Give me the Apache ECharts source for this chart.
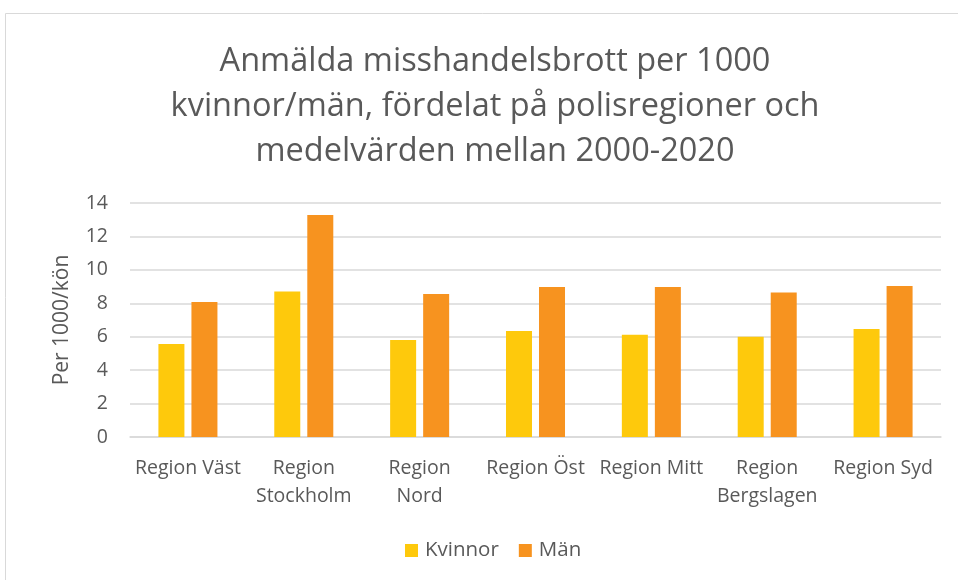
<!DOCTYPE html>
<html>
<head>
<meta charset="utf-8">
<script src="https://cdn.jsdelivr.net/npm/echarts@6/dist/echarts.min.js"></script>
<style>
  html, body { margin: 0; padding: 0; background: #fff; }
  #chart { width: 958px; height: 580px; }
</style>
</head>
<body>
<div id="chart"></div>
<script>
const categories = ["Region Väst", "Region Stockholm", "Region Nord", "Region Öst", "Region Mitt", "Region Bergslagen", "Region Syd"];
const kvinnor = [5.56, 8.7, 5.8, 6.34, 6.12, 6.0, 6.46];
const man = [8.08, 13.28, 8.56, 8.98, 8.98, 8.64, 9.04];
const yTicks = { min: 0, max: 14, interval: 2 };

// kategorier som bryts på två rader (som i originalet)
const wrapped = ["Region Stockholm", "Region Nord", "Region Bergslagen"];

const textColor = "#595959";
const font = "'Open Sans', 'Noto Sans', sans-serif";

const chart = echarts.init(document.getElementById("chart"));
chart.setOption({
  animation: false,
  textStyle: { fontFamily: font },
  graphic: [
    {
      type: "rect",
      shape: { x: 5.5, y: 13.5, width: 1000, height: 700 },
      style: { fill: "none", stroke: "#d9d9d9", lineWidth: 1 },
      silent: true,
    },
  ],
  title: {
    text: "Anmälda misshandelsbrott per 1000\nkvinnor/män, fördelat på polisregioner och\nmedelvärden mellan 2000-2020",
    left: 490,
    textAlign: "center",
    top: 34,
    textStyle: {
      fontFamily: font,
      fontSize: 32.5,
      fontWeight: "normal",
      color: textColor,
      lineHeight: 45,
    },
  },
  legend: {
    bottom: 14,
    left: 400,
    itemWidth: 13,
    itemHeight: 13,
    itemGap: 20,
    icon: "rect",
    textStyle: { fontSize: 20.5, color: textColor, fontFamily: font, padding: [0, 0, 0, 2] },
    data: ["Kvinnor", "Män"],
  },
  grid: { left: 130, right: 17, top: 203, bottom: 143, containLabel: false },
  xAxis: {
    type: "category",
    data: categories,
    axisLine: { show: true, lineStyle: { color: "#d9d9d9", width: 1.5 } },
    axisTick: { show: false },
    axisLabel: {
      interval: 0,
      fontSize: 19.5,
      color: textColor,
      margin: 17,
      lineHeight: 28.5,
      formatter: (v) => (wrapped.includes(v) ? v.replace(" ", "\n") : v),
    },
  },
  yAxis: {
    type: "value",
    min: yTicks.min,
    max: yTicks.max,
    interval: yTicks.interval,
    name: "Per 1000/kön",
    nameLocation: "middle",
    nameGap: 57,
    nameTextStyle: { fontSize: 21, color: textColor, fontFamily: font },
    axisLine: { show: false },
    axisTick: { show: false },
    axisLabel: { fontSize: 19.5, color: textColor, margin: 22 },
    splitLine: { lineStyle: { color: "#d9d9d9", width: 1.5 } },
  },
  series: [
    {
      name: "Kvinnor",
      type: "bar",
      data: kvinnor,
      barWidth: 26,
      barGap: "27%",
      itemStyle: { color: "#FEC90C" },
    },
    {
      name: "Män",
      type: "bar",
      data: man,
      barWidth: 26,
      itemStyle: { color: "#F7931F" },
    },
  ],
});
</script>
</body>
</html>
